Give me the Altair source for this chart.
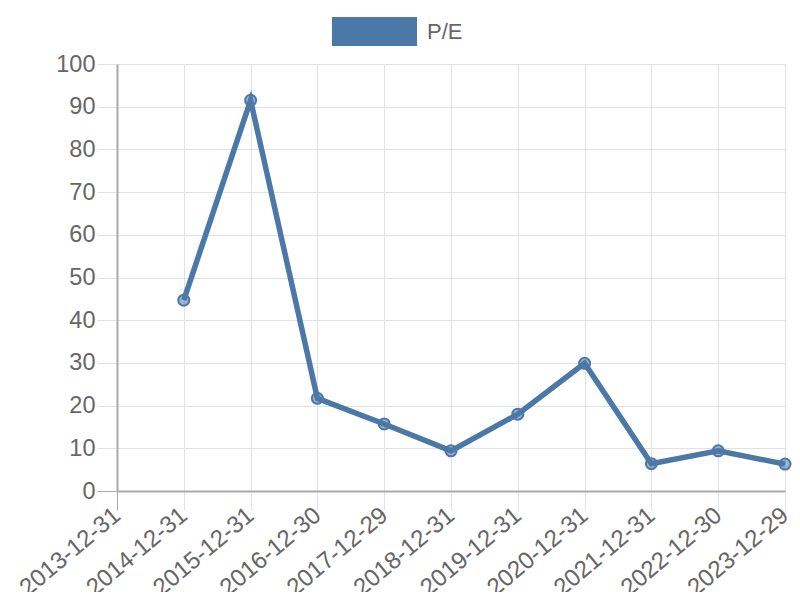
import altair as alt
import pandas as pd

dates = ["2013-12-31", "2014-12-31", "2015-12-31", "2016-12-30", "2017-12-29",
         "2018-12-31", "2019-12-31", "2020-12-31", "2021-12-31", "2022-12-30",
         "2023-12-29"]
pe = [None, 44.7, 91.5, 21.7, 15.7, 9.4, 18.0, 29.9, 6.4, 9.4, 6.3]
series = ["P/E"] * len(dates)
y_ticks = list(range(0, 101, 10))

df = pd.DataFrame({"date": dates, "pe": pe, "series": series})

BLUE = "#4c78a8"
FONT = "Liberation Sans"

x = alt.X("date:O", sort=dates, title=None,
          scale=alt.Scale(type="point", padding=0, domain=dates),
          axis=alt.Axis(labelAngle=320, labelAlign="right", labelBaseline="middle",
                        labelFontSize=24, labelColor="#666666",
                        labelFont=FONT, tickSize=19, labelPadding=2,
                        tickColor={"condition": {"test": "datum.value === '2013-12-31'", "value": "#aaaaaa"}, "value": "#e2e2e2"},
                        gridColor="#e2e2e2", domainColor="#aaaaaa", domainWidth=2,
                        labelOverlap=False, labelBound=False, grid=True))
y = alt.Y("pe:Q", title=None,
          scale=alt.Scale(domain=[0, 100], nice=False, zero=True),
          axis=alt.Axis(values=y_ticks, labelFontSize=23.5, labelColor="#666666",
                        labelFont=FONT, tickSize=20, labelPadding=2,
                        tickColor={"condition": {"test": "datum.value === 0", "value": "#aaaaaa"}, "value": "#e2e2e2"},
                        gridColor="#e2e2e2", domainColor="#aaaaaa", domainWidth=2,
                        grid=True))

base = alt.Chart(df).encode(x=x, y=y)

line = base.mark_line(strokeWidth=5.5, strokeJoin="miter", strokeCap="butt").encode(
    color=alt.Color("series:N", scale=alt.Scale(domain=["P/E"], range=[BLUE]),
                    legend=alt.Legend(title=None, orient="none", legendX=215, legendY=-75,
                                      padding=0,
                                      symbolType="M-1,-0.341H1V0.341H-1Z",
                                      symbolSize=7225, symbolFillColor=BLUE,
                                      symbolStrokeColor=BLUE, symbolStrokeWidth=0,
                                      symbolOpacity=1, labelOffset=10,
                                      labelFontSize=22, labelColor="#666666",
                                      labelFont=FONT))
)

points = base.mark_point(filled=True, size=121, fill=BLUE, fillOpacity=0.55,
                         stroke=BLUE, strokeOpacity=1, strokeWidth=2, opacity=1)

chart = alt.layer(line, points).properties(
    width=668, height=427,
    autosize=alt.AutoSizeParams(type="none"),
    padding={"left": 109, "top": 56, "right": 7, "bottom": 101},
).configure_view(stroke=None)

chart.save("out.html", embed_options={"renderer": "svg", "actions": False})
